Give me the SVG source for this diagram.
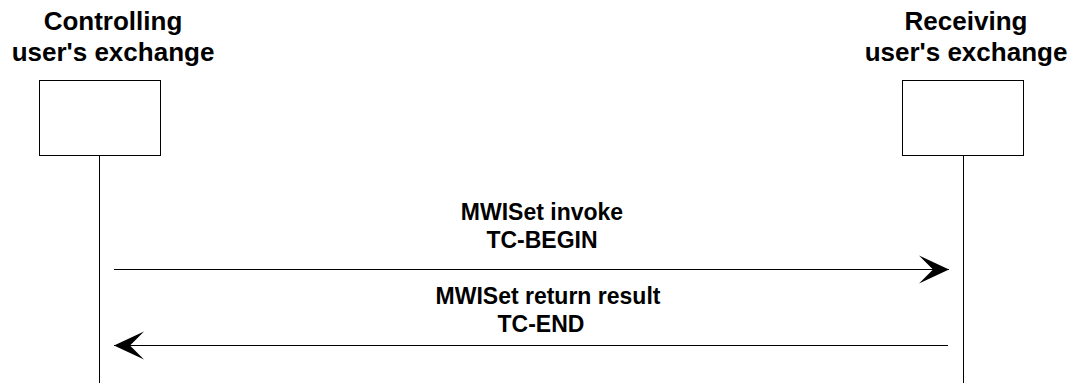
<svg xmlns="http://www.w3.org/2000/svg" width="1082" height="383" viewBox="0 0 1082 383">
<style>
.t{font-family:"Liberation Sans",Arial,sans-serif;font-weight:bold;fill:#000;text-anchor:middle}
.h{font-size:26px}
.m{font-size:23px}
.box{fill:#fff;stroke:#000;stroke-width:1}
.life{stroke:#000;stroke-width:1;fill:none}
.msg{stroke:#000;stroke-width:1;fill:none}
</style>
<defs>
<marker id="ah" markerUnits="userSpaceOnUse" markerWidth="32" markerHeight="30" refX="30" refY="15" orient="auto">
<path d="M0,1 L30,15 L0,29 L14,15 Z" fill="#000"/>
</marker>
</defs>
<rect width="1082" height="383" fill="#fff"/>
<g id="controlling">
<text class="t h" x="113" y="30">Controlling</text>
<text class="t h" x="113" y="61">user's exchange</text>
<rect class="box" x="39.5" y="80.5" width="121" height="75"/>
<line class="life" x1="99.5" y1="155.5" x2="99.5" y2="383"/>
</g>
<g id="receiving">
<text class="t h" x="966" y="30">Receiving</text>
<text class="t h" x="966" y="61">user's exchange</text>
<rect class="box" x="902.5" y="80.5" width="121" height="75"/>
<line class="life" x1="963.5" y1="155.5" x2="963.5" y2="383"/>
</g>
<g id="connectors">
<line class="msg" x1="114" y1="269.5" x2="949" y2="269.5" marker-end="url(#ah)"/>
<line class="msg" x1="948" y1="345.5" x2="114" y2="345.5" marker-end="url(#ah)"/>
</g>
<g id="labels">
<text class="t m" x="542" y="220">MWISet invoke</text>
<text class="t m" x="542" y="248">TC-BEGIN</text>
<text class="t m" x="548" y="304">MWISet return result</text>
<text class="t m" x="541" y="332">TC-END</text>
</g>
</svg>
